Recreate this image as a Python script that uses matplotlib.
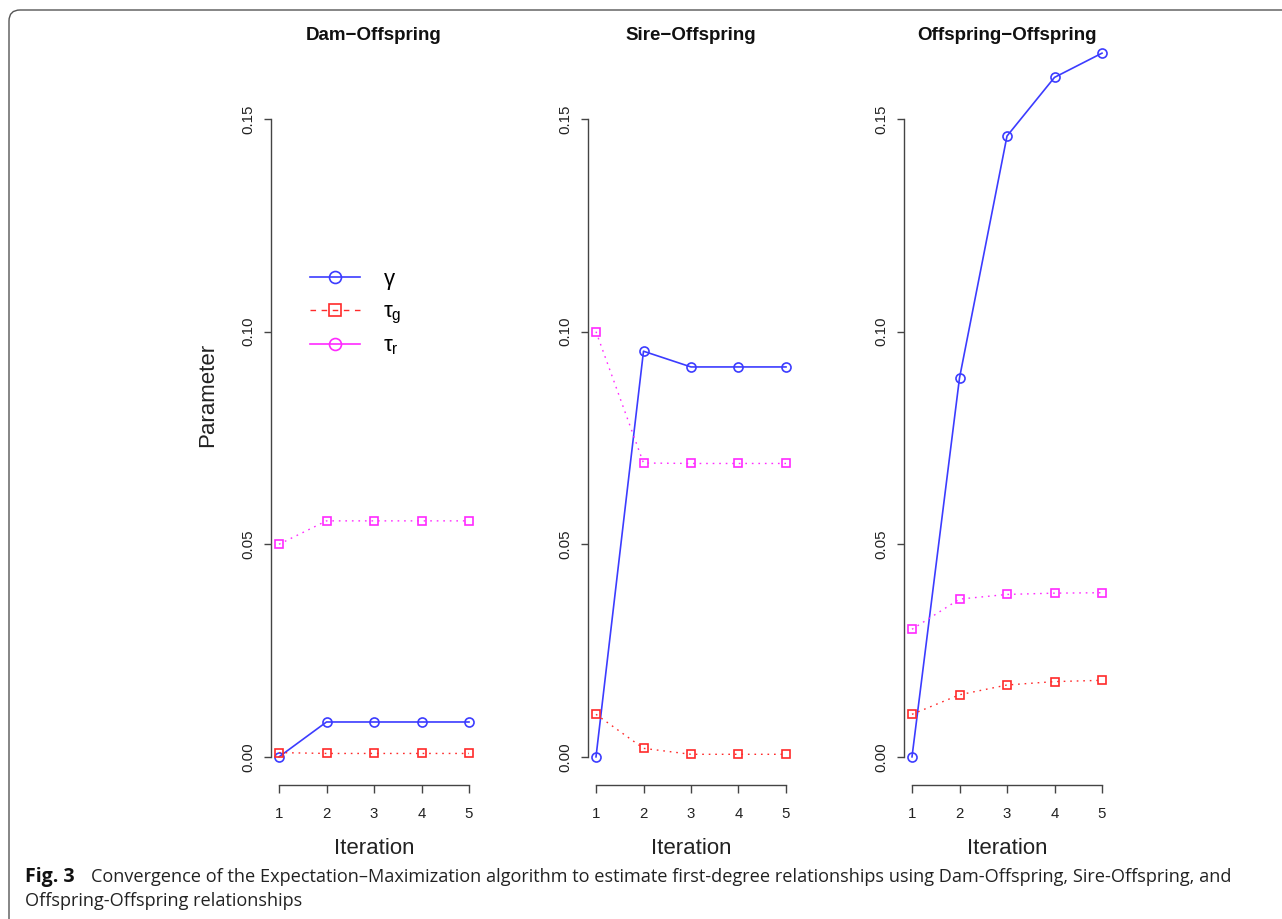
import matplotlib
matplotlib.use("Agg")
import matplotlib.pyplot as plt
from matplotlib.lines import Line2D
from matplotlib.patches import FancyBboxPatch
from matplotlib.transforms import IdentityTransform

plt.rcParams['font.family'] = ['Liberation Sans', 'DejaVu Sans']
plt.rcParams['mathtext.fontset'] = 'custom'
plt.rcParams['mathtext.rm'] = 'Liberation Sans'
plt.rcParams['mathtext.it'] = 'Liberation Sans:italic'

# ---------------- data ----------------
iterations = [1, 2, 3, 4, 5]
panel_titles = ["Dam\u2212Offspring", "Sire\u2212Offspring", "Offspring\u2212Offspring"]

dam_gamma = [0.0, 0.0082, 0.0082, 0.0082, 0.0082]
dam_tau_g = [0.0010, 0.0008, 0.0008, 0.0008, 0.0008]
dam_tau_r = [0.050, 0.0555, 0.0555, 0.0555, 0.0555]

sire_gamma = [0.0, 0.0954, 0.0917, 0.0917, 0.0917]
sire_tau_g = [0.0100, 0.0020, 0.0006, 0.0006, 0.0006]
sire_tau_r = [0.100, 0.0691, 0.0690, 0.0690, 0.0690]

off_gamma = [0.0, 0.0891, 0.1460, 0.1598, 0.1655]
off_tau_g = [0.0100, 0.0146, 0.0169, 0.0177, 0.0180]
off_tau_r = [0.0300, 0.0371, 0.0382, 0.0385, 0.0386]

y_ticks = [0.00, 0.05, 0.10, 0.15]
y_tick_labels = ["0.00", "0.05", "0.10", "0.15"]
legend_labels = [r"$\mathrm{\gamma}$", r"$\mathrm{\tau}_\mathrm{g}$", r"$\mathrm{\tau}_\mathrm{r}$"]

caption_bold = "Fig. 3"
caption_line1 = ("Convergence of the Expectation\u2013Maximization algorithm to estimate first-degree "
                 "relationships using Dam-Offspring, Sire-Offspring, and")
caption_line2 = "Offspring-Offspring relationships"

panels = [
    (dam_gamma, dam_tau_g, dam_tau_r),
    (sire_gamma, sire_tau_g, sire_tau_r),
    (off_gamma, off_tau_g, off_tau_r),
]

# ---------------- style ----------------
C_BLUE = '#3c3cff'
C_RED = '#ff2a2a'
C_MAG = '#ff2aff'
AX_COL = '#444444'

W, H = 1282, 919
fig = plt.figure(figsize=(W / 100, H / 100), dpi=100)

ax_left_px = [271.4, 588.4, 904.4]
ax_w_px = 205.2
ax_top_px, ax_bot_px = 25, 785

all_max = max(max(p[0]) for p in panels)
ylim = (-0.04 * all_max, all_max * 1.04)

axes = []
for i, (gam, tg, tr) in enumerate(panels):
    ax = fig.add_axes([ax_left_px[i] / W, (H - ax_bot_px) / H,
                       ax_w_px / W, (ax_bot_px - ax_top_px) / H])
    axes.append(ax)
    ax.plot(iterations, gam, color=C_BLUE, lw=1.2, marker='o', ms=6.5,
            mfc='none', mec=C_BLUE, mew=1.2)
    ax.plot(iterations, tg, color=C_RED, lw=1.0, linestyle=(0, (1.2, 3.5)),
            marker='s', ms=6, mfc='none', mec=C_RED, mew=1.2)
    ax.plot(iterations, tr, color=C_MAG, lw=1.0, linestyle=(0, (1.2, 3.5)),
            marker='s', ms=6, mfc='none', mec=C_MAG, mew=1.2)
    ax.set_xlim(0.84, 5.16)
    ax.set_ylim(*ylim)
    for s in ['top', 'right']:
        ax.spines[s].set_visible(False)
    ax.spines['left'].set_bounds(0, 0.15)
    ax.spines['bottom'].set_bounds(1, 5)
    for s in ['left', 'bottom']:
        ax.spines[s].set_color(AX_COL)
        ax.spines[s].set_linewidth(1.0)
    ax.set_xticks(iterations)
    ax.set_xticklabels([str(v) for v in iterations])
    ax.set_yticks(y_ticks)
    ax.set_yticklabels(y_tick_labels)
    ax.tick_params(axis='both', length=5.4, width=1.0, color=AX_COL,
                   labelsize=10.8, labelcolor='#222222')
    ax.tick_params(axis='x', pad=10.5)
    ax.tick_params(axis='y', pad=6)
    for lab in ax.get_yticklabels():
        lab.set_rotation(90)
        lab.set_va('center')
        lab.set_ha('right')
    ax.set_title(panel_titles[i], fontsize=13.5, fontweight='bold', y=0.980, pad=0,
                 color='#111111')
    ax.set_xlabel("Iteration", fontsize=16, color='#222222')
    ax.xaxis.set_label_coords(0.5, -0.0696)
    ax.patch.set_visible(False)

axes[0].set_ylabel("Parameter", fontsize=16, color='#222222')
axes[0].yaxis.set_label_coords(-0.26, 0.513)

handles = [
    Line2D([], [], color=C_BLUE, lw=1.2, marker='o', ms=8.6, mfc='none', mec=C_BLUE, mew=1.2),
    Line2D([], [], color=C_RED, lw=1.0, linestyle=(0, (4, 4)), marker='s', ms=8, mfc='none',
           mec=C_RED, mew=1.2),
    Line2D([], [], color=C_MAG, lw=1.2, marker='o', ms=8.6, mfc='none', mec=C_MAG, mew=1.2),
]
axes[0].legend(handles, legend_labels, loc='center left',
               bbox_to_anchor=((310 - ax_left_px[0]) / ax_w_px, (785 - 313) / 760),
               frameon=False, fontsize=16, handlelength=2.27, handletextpad=1.0,
               borderpad=0, borderaxespad=0, labelspacing=0.42, numpoints=1)

# caption
cap_family = ['Open Sans', 'DejaVu Sans']
fig.text(25 / W, 1 - 882 / H, caption_bold, fontsize=14, fontweight='bold',
         family=cap_family, color='#111111')
fig.text(91 / W, 1 - 882 / H, caption_line1, fontsize=13.05,
         family=cap_family, color='#222222')
fig.text(25 / W, 1 - 906 / H, caption_line2, fontsize=13.05,
         family=cap_family, color='#222222')

# rounded frame (right and bottom edges lie outside the image)
frame = FancyBboxPatch((9, -40), 1320, H - 10 + 40, boxstyle="round,pad=0,rounding_size=11",
                       transform=IdentityTransform(), fill=False, edgecolor='#555555', lw=1.0)
fig.patches.append(frame)

fig.savefig("out.png", dpi=100)
